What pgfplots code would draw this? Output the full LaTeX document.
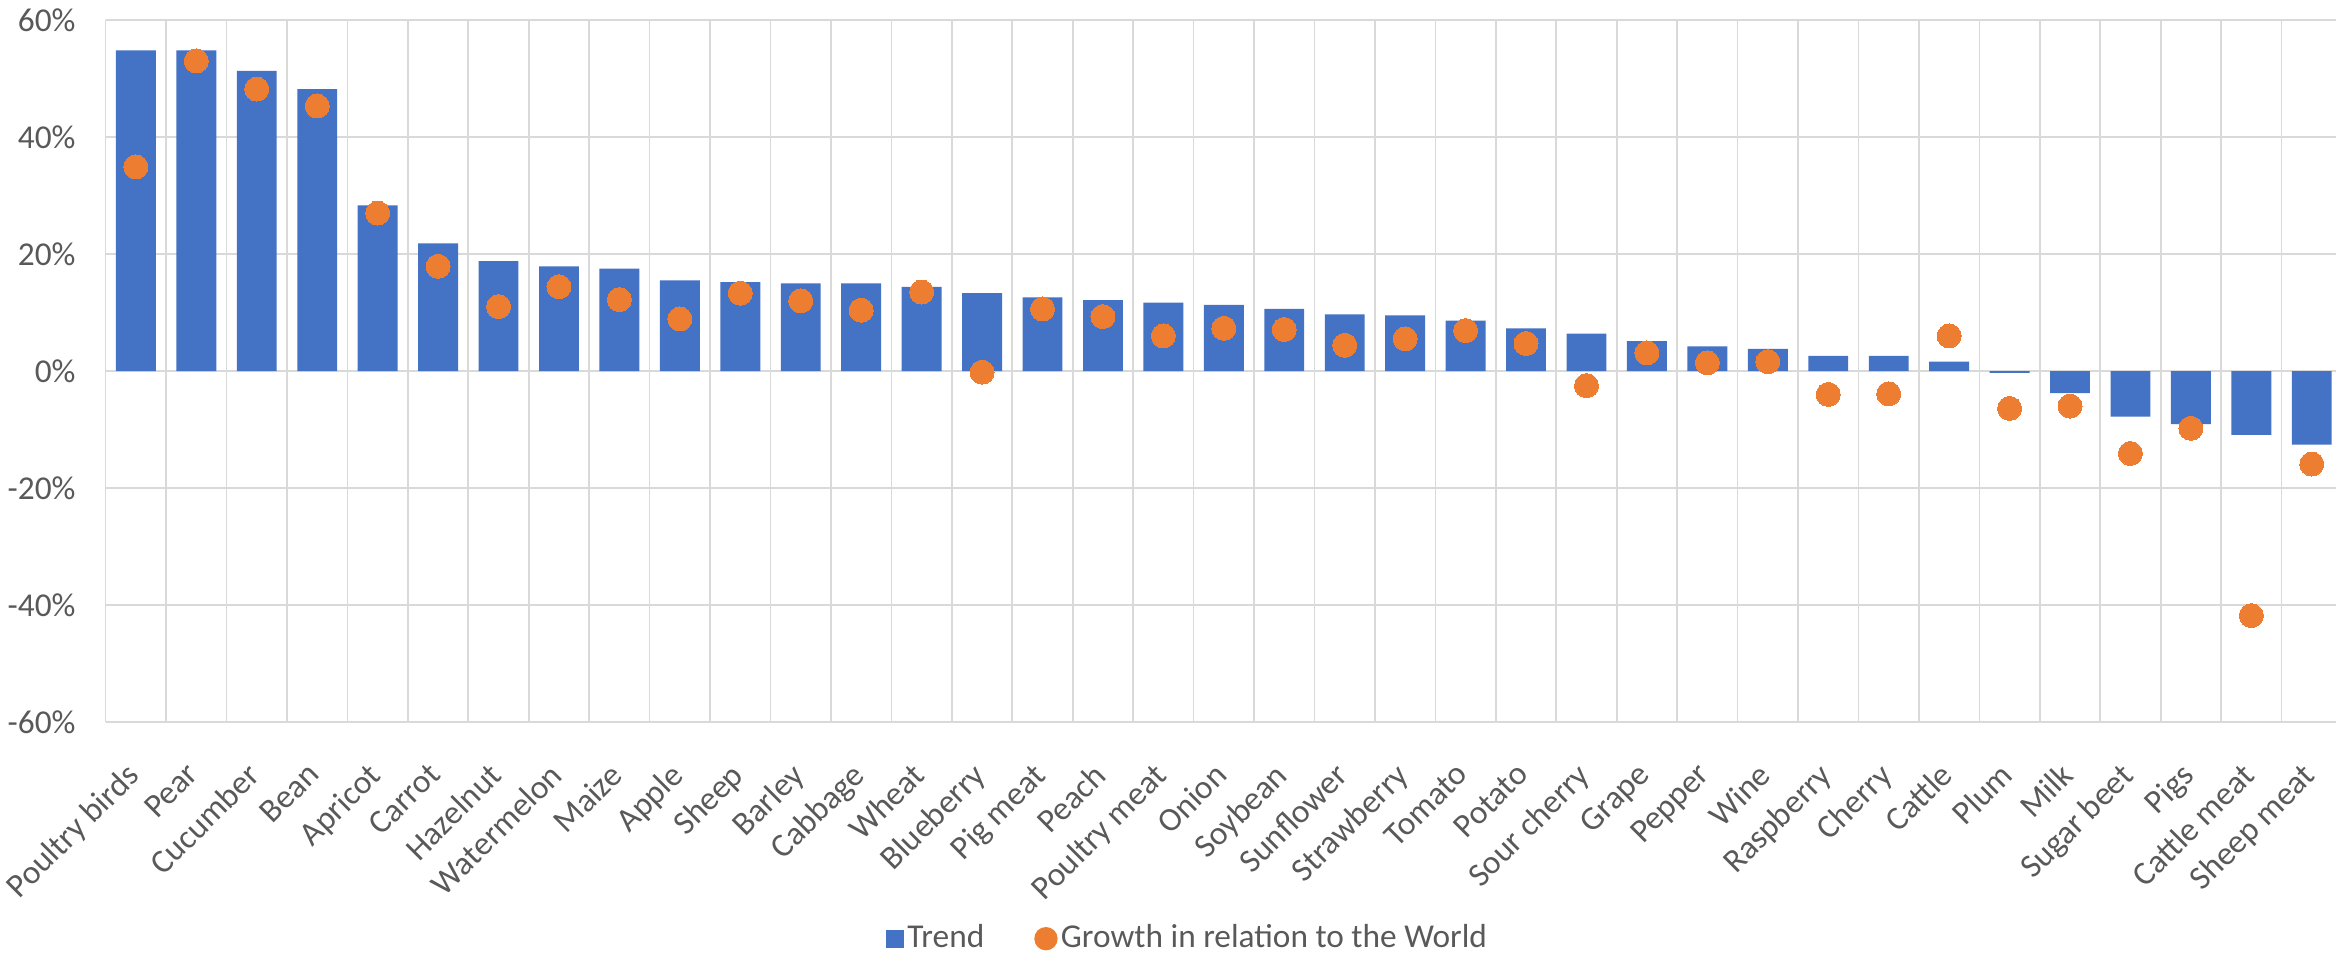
\documentclass[border=0pt]{standalone}
\usepackage{fontspec}
\setmainfont{Carlito}
\usepackage{pgfplots}
\pgfplotsset{compat=1.18}
\usetikzlibrary{calc}
\definecolor{barblue}{HTML}{4472C4}
\definecolor{dotorange}{HTML}{ED7D31}
\definecolor{txtgray}{HTML}{595959}
\definecolor{gridgray}{HTML}{D9D9D9}
\begin{document}
\begin{tikzpicture}
\begin{axis}[
  name=ax,
  scale only axis,
  width=670.9pt, height=210.6pt,
  xmin=-0.5, xmax=36.5,
  ymin=-60, ymax=60,
  xtick={0,...,36},
  xticklabels={Poultry birds,Pear,Cucumber,Bean,Apricot,Carrot,Hazelnut,Watermelon,Maize,Apple,Sheep,Barley,Cabbage,Wheat,Blueberry,Pig meat,Peach,Poultry meat,Onion,Soybean,Sunflower,Strawberry,Tomato,Potato,Sour cherry,Grape,Pepper,Wine,Raspberry,Cherry,Cattle,Plum,Milk,Sugar beet,Pigs,Cattle meat,Sheep meat},
  minor xtick={-0.5,0.5,...,36.5},
  ytick={-60,-40,-20,0,20,40,60},
  yticklabels={-60\%,-40\%,-20\%,0\%,20\%,40\%,60\%},
  xminorgrids=true, xmajorgrids=false, ymajorgrids=true,
  grid style={draw=gridgray, line width=0.5pt},
  minor grid style={draw=gridgray, line width=0.5pt},
  major tick length=0pt, minor tick length=0pt,
  axis line style={draw=none},
  tick label style={font=\fontsize{10}{12}\selectfont, text=txtgray},
  yticklabel style={xshift=-5.5pt},
  xticklabel style={inner sep=0pt, xshift=-3.4pt, yshift=-11.5pt, rotate=45, anchor=north east},
  legend style={at={(0.49,0)}, anchor=center, xshift=-4pt, yshift=-65pt, draw=none, fill=none,
    font=\fontsize{10}{12}\selectfont, text=txtgray,
    /tikz/every even column/.append style={column sep=14pt},
    nodes={inner sep=1pt}},
  legend columns=2,
  legend cell align=left,
  clip=false,
]
\addplot[ybar, bar width=0.66, fill=barblue, draw=none,
  legend image code/.code={\fill[barblue] (0pt,-2.7pt) rectangle (5.4pt,2.7pt);}]
coordinates {
(0,54.8) (1,54.8) (2,51.3) (3,48.2) (4,28.3) (5,21.8) (6,18.8) (7,17.9) (8,17.5) (9,15.5)
(10,15.2) (11,15.0) (12,15.0) (13,14.4) (14,13.3) (15,12.6) (16,12.1) (17,11.7) (18,11.3) (19,10.6)
(20,9.7) (21,9.5) (22,8.6) (23,7.3) (24,6.4) (25,5.1) (26,4.2) (27,3.8) (28,2.6) (29,2.6)
(30,1.6) (31,-0.3) (32,-3.8) (33,-7.8) (34,-9.1) (35,-10.9) (36,-12.6)
};
\addlegendentry{Trend}
\addplot[only marks, color=dotorange, mark=*, mark size=3.6pt, mark options={fill=dotorange, draw=dotorange, line width=0pt},
  legend image code/.code={\fill[dotorange] (3.3pt,0pt) circle (3.3pt);}]
coordinates {
(0,34.9) (1,53.0) (2,48.2) (3,45.3) (4,27.0) (5,17.9) (6,11.0) (7,14.4) (8,12.2) (9,8.9)
(10,13.3) (11,12.0) (12,10.4) (13,13.5) (14,-0.2) (15,10.6) (16,9.3) (17,6.0) (18,7.3) (19,7.1)
(20,4.4) (21,5.5) (22,6.9) (23,4.7) (24,-2.5) (25,3.1) (26,1.4) (27,1.6) (28,-4.0) (29,-3.9)
(30,6.0) (31,-6.4) (32,-6.0) (33,-14.1) (34,-9.8) (35,-41.8) (36,-15.9)
};
\addlegendentry{Growth in relation to the World}
\end{axis}
\pgfresetboundingbox
\path[use as bounding box] ($(ax.south west)+(-31.7pt,-69pt)$) rectangle ($(ax.north east)+(-1.8pt,6pt)$);
\end{tikzpicture}
\end{document}
